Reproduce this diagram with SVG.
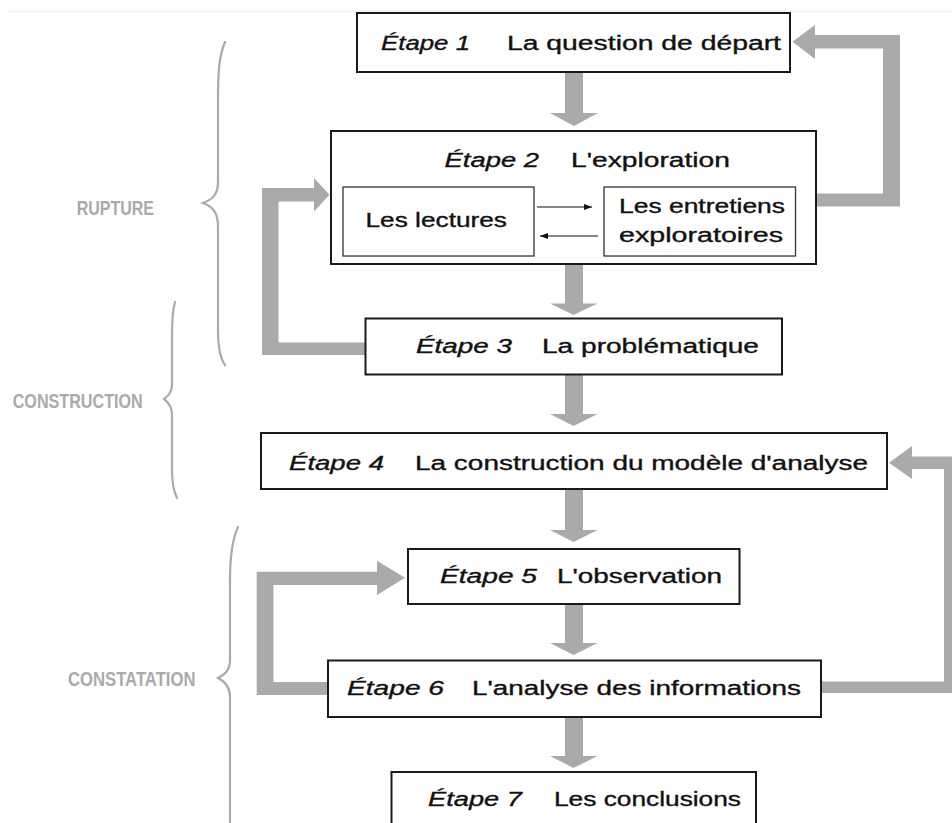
<svg xmlns="http://www.w3.org/2000/svg" width="952" height="823" viewBox="0 0 952 823">
<defs>
<style>
.box{fill:#fff;stroke:#1a1a1a;stroke-width:2}
.inner{fill:#fff;stroke:#333;stroke-width:1.3}
.t{font-family:"Liberation Sans",Arial,sans-serif;font-size:20px;fill:#111;stroke:#111;stroke-width:0.35}
.e{font-style:italic}
.lab{font-family:"Liberation Sans",Arial,sans-serif;font-size:21px;font-weight:bold;fill:#aaaaaa}
.flow{fill:#aaaaaa;stroke:none}
.brace{fill:none;stroke:#aaaaaa;stroke-width:2.2;stroke-linecap:round}
.thin{stroke:#111;stroke-width:1;fill:none}
</style>
<marker id="sa" viewBox="0 0 8 6" refX="8" refY="3" markerWidth="8" markerHeight="6" markerUnits="userSpaceOnUse" orient="auto">
<path d="M0,0 L8,3 L0,6 Z" fill="#111"/>
</marker>
</defs>
<rect width="952" height="823" fill="#fff"/>
<line x1="9" y1="11.5" x2="952" y2="11.5" stroke="#f2f2f2" stroke-width="2"/>

<g id="braces">
<path class="brace" d="M225,42 C219,56 218,72 218,100 L218,182 C218,196 211,200 203,203 C211,206 218,211 218,226 L218,330 C218,348 220,358 225,365"/>
<path class="brace" d="M175,302 C172,312 172,322 172,335 L172,384 C172,393 168,396 164,399 C168,402 172,406 172,415 L172,470 C172,484 174,492 177,498"/>
<path class="brace" d="M238,527 C232,540 230,556 230,580 L230,660 C230,671 224,675 218,678 C224,681 230,686 230,697 L230,830"/>
</g>

<g id="labels">
<text class="lab" x="76.7" y="215" textLength="77.3" lengthAdjust="spacingAndGlyphs">RUPTURE</text>
<text class="lab" x="12.7" y="408" textLength="130" lengthAdjust="spacingAndGlyphs">CONSTRUCTION</text>
<text class="lab" x="68" y="686" textLength="127.5" lengthAdjust="spacingAndGlyphs">CONSTATATION</text>
</g>

<g id="connectors">
<path class="flow" d="M565,72 L583,72 L583,113 L598,113 L574,126 L550,113 L565,113 Z"/>
<path class="flow" d="M565,264 L583,264 L583,303.5 L597.5,303.5 L573.5,315 L550,303.5 L565,303.5 Z"/>
<path class="flow" d="M565,374 L583,374 L583,414 L597.5,414 L573.5,426 L550,414 L565,414 Z"/>
<path class="flow" d="M565,489 L583,489 L583,530 L597.5,530 L573.5,542 L550,530 L565,530 Z"/>
<path class="flow" d="M565,604 L583,604 L583,643 L597.5,643 L573.5,655 L550,643 L565,643 Z"/>
<path class="flow" d="M565,717 L583,717 L583,756 L597.5,756 L573.5,768 L550,756 L565,756 Z"/>
<path class="flow" d="M816,193.5 L883,193.5 L883,48.5 L815,48.5 L815,59 L792.5,41.8 L815,25 L815,35 L900,35 L900,206.5 L816,206.5 Z"/>
<path class="flow" d="M365,342.5 L278.5,342.5 L278.5,201.5 L314,201.5 L314,211.5 L329.5,194.8 L314,178 L314,188 L262,188 L262,355 L365,355 Z"/>
<path class="flow" d="M821,681.5 L944,681.5 L944,469 L912,469 L912,479 L889,462.8 L912,446 L912,456.5 L962,456.5 L962,693 L821,693 Z"/>
<path class="flow" d="M328,682 L273.5,682 L273.5,585 L377,585 L377,595 L405,577.8 L377,560.7 L377,571.7 L256.7,571.7 L256.7,695 L328,695 Z"/>
</g>

<g id="etape1">
<rect class="box" x="357" y="13" width="433" height="59"/>
<text class="t e" x="381" y="50" textLength="89" lengthAdjust="spacingAndGlyphs">Étape 1</text>
<text class="t" x="507" y="50" textLength="274" lengthAdjust="spacingAndGlyphs">La question de départ</text>
</g>

<g id="etape2">
<rect class="box" x="331" y="131" width="485" height="133"/>
<text class="t e" x="444.5" y="167" textLength="94.5" lengthAdjust="spacingAndGlyphs">Étape 2</text>
<text class="t" x="571" y="167" textLength="159" lengthAdjust="spacingAndGlyphs">L'exploration</text>
</g>

<g id="lectures">
<rect class="inner" x="343" y="187" width="191" height="69"/>
<text class="t" x="365.5" y="227" textLength="141.5" lengthAdjust="spacingAndGlyphs">Les lectures</text>
</g>

<g id="entretiens">
<rect class="inner" x="604" y="187" width="191.5" height="69"/>
<text class="t" x="619" y="213" textLength="166" lengthAdjust="spacingAndGlyphs">Les entretiens</text>
<text class="t" x="619" y="242" textLength="164" lengthAdjust="spacingAndGlyphs">exploratoires</text>
</g>

<g id="inner-connectors">
<line class="thin" x1="537" y1="207" x2="592" y2="207" marker-end="url(#sa)"/>
<line class="thin" x1="598" y1="236" x2="540" y2="236" marker-end="url(#sa)"/>
</g>

<g id="etape3">
<rect class="box" x="365.5" y="318.5" width="416.5" height="56"/>
<text class="t e" x="416" y="353" textLength="96" lengthAdjust="spacingAndGlyphs">Étape 3</text>
<text class="t" x="542" y="353" textLength="217" lengthAdjust="spacingAndGlyphs">La problématique</text>
</g>

<g id="etape4">
<rect class="box" x="261" y="433" width="626" height="56"/>
<text class="t e" x="289" y="469.5" textLength="95" lengthAdjust="spacingAndGlyphs">Étape 4</text>
<text class="t" x="415" y="469.5" textLength="453" lengthAdjust="spacingAndGlyphs">La construction du modèle d'analyse</text>
</g>

<g id="etape5">
<rect class="box" x="408" y="549" width="331.5" height="55"/>
<text class="t e" x="440" y="583" textLength="97" lengthAdjust="spacingAndGlyphs">Étape 5</text>
<text class="t" x="557" y="583" textLength="165" lengthAdjust="spacingAndGlyphs">L'observation</text>
</g>

<g id="etape6">
<rect class="box" x="328" y="660.5" width="493" height="56.5"/>
<text class="t e" x="347" y="695" textLength="97" lengthAdjust="spacingAndGlyphs">Étape 6</text>
<text class="t" x="472" y="695" textLength="329" lengthAdjust="spacingAndGlyphs">L'analyse des informations</text>
</g>

<g id="etape7">
<rect class="box" x="391.5" y="772" width="364.5" height="60"/>
<text class="t e" x="428" y="806" textLength="94" lengthAdjust="spacingAndGlyphs">Étape 7</text>
<text class="t" x="554" y="806" textLength="187" lengthAdjust="spacingAndGlyphs">Les conclusions</text>
</g>
</svg>
